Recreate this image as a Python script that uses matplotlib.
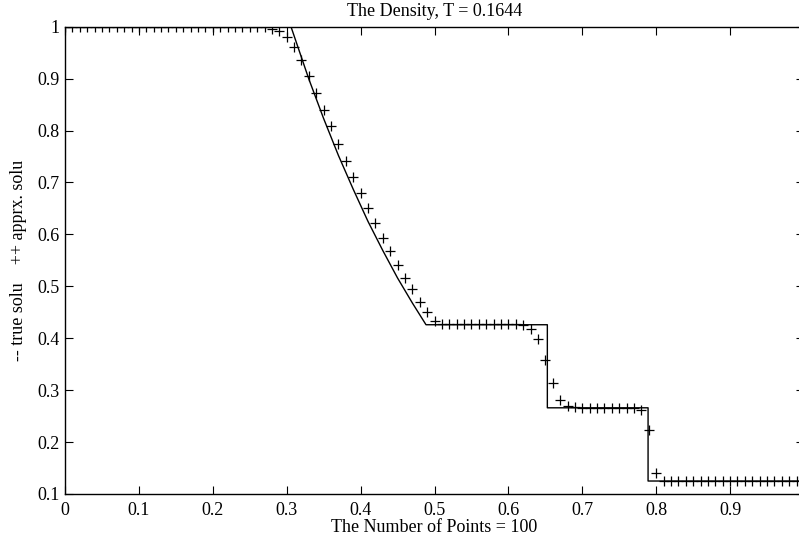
import matplotlib
matplotlib.use("Agg")
import matplotlib.pyplot as plt
import numpy as np

# approximate solution (100 points, x = 0.00 .. 0.99)
x_appr = [i / 100 for i in range(100)]
rho_appr = [
    1.0, 1.0, 1.0, 1.0, 1.0, 1.0, 1.0, 1.0, 1.0, 1.0,
    1.0, 1.0, 1.0, 1.0, 1.0, 1.0, 1.0, 1.0, 1.0, 1.0,
    1.0, 1.0, 1.0, 1.0, 1.0, 1.0, 1.0, 1.0,
    0.996, 0.991, 0.981, 0.961, 0.936, 0.906, 0.873, 0.840, 0.809, 0.775,
    0.742, 0.711, 0.680, 0.650, 0.622, 0.594, 0.568, 0.541, 0.516, 0.494,
    0.470, 0.450, 0.434, 0.428,
    0.427, 0.427, 0.427, 0.427, 0.427, 0.427, 0.427, 0.427, 0.427, 0.427,
    0.426, 0.417, 0.398, 0.358, 0.313, 0.282, 0.269, 0.267,
    0.266, 0.266, 0.266, 0.266, 0.266, 0.266, 0.266, 0.266,
    0.262, 0.224, 0.141,
    0.125, 0.125, 0.125, 0.125, 0.125, 0.125, 0.125, 0.125, 0.125, 0.125,
    0.125, 0.125, 0.125, 0.125, 0.125, 0.125, 0.125, 0.125, 0.125,
]

# true solution (polyline)
x_true = [0.0, 0.3058, 0.33, 0.35, 0.37, 0.39, 0.41, 0.43, 0.45, 0.47, 0.4885,
          0.6527, 0.6527, 0.789, 0.789, 1.0]
rho_true = [1.0, 1.0, 0.899, 0.823, 0.752, 0.687, 0.625, 0.569, 0.516, 0.468, 0.426,
            0.426, 0.266, 0.266, 0.125, 0.125]

title = "The Density, T = 0.1644"
xlabel = "The Number of Points = 100"
ylabel = "-- true solu    ++ apprx. solu"
xticks = [0, 0.1, 0.2, 0.3, 0.4, 0.5, 0.6, 0.7, 0.8, 0.9]
xticklabels = ["0", "0.1", "0.2", "0.3", "0.4", "0.5", "0.6", "0.7", "0.8", "0.9"]
yticks = [0.1, 0.2, 0.3, 0.4, 0.5, 0.6, 0.7, 0.8, 0.9, 1.0]
yticklabels = ["0.1", "0.2", "0.3", "0.4", "0.5", "0.6", "0.7", "0.8", "0.9", "1"]

plt.rcParams['font.family'] = ['Liberation Serif', 'DejaVu Serif']

W, H = 799, 537
fig = plt.figure(figsize=(W / 100, H / 100), dpi=100)
left, right, top, bottom = 65, 804, 26.7, 494
ax = fig.add_axes([left / W, 1 - bottom / H, (right - left) / W, (bottom - top) / H])

ax.plot(x_true, rho_true, color='black', linewidth=1.0)
ax.plot(x_appr, rho_appr, linestyle='none', marker='+', color='black',
        markersize=7, markeredgewidth=0.9)

ax.set_xlim(0, 1)
ax.set_ylim(0.1, 1)
ax.set_xticks(xticks)
ax.set_xticklabels(xticklabels)
ax.set_yticks(yticks)
ax.set_yticklabels(yticklabels)
ax.tick_params(direction='in', length=6, width=0.8, labelsize=13,
               top=True, right=True)
ax.tick_params(axis='x', pad=6)
ax.tick_params(axis='y', pad=4)
for s in ax.spines.values():
    s.set_linewidth(1.0)

ax.set_title(title, fontsize=13, pad=8)
ax.set_xlabel(xlabel, fontsize=13, labelpad=0)
ax.set_ylabel(ylabel, fontsize=13, labelpad=7)

fig.savefig("out.png", dpi=100)
